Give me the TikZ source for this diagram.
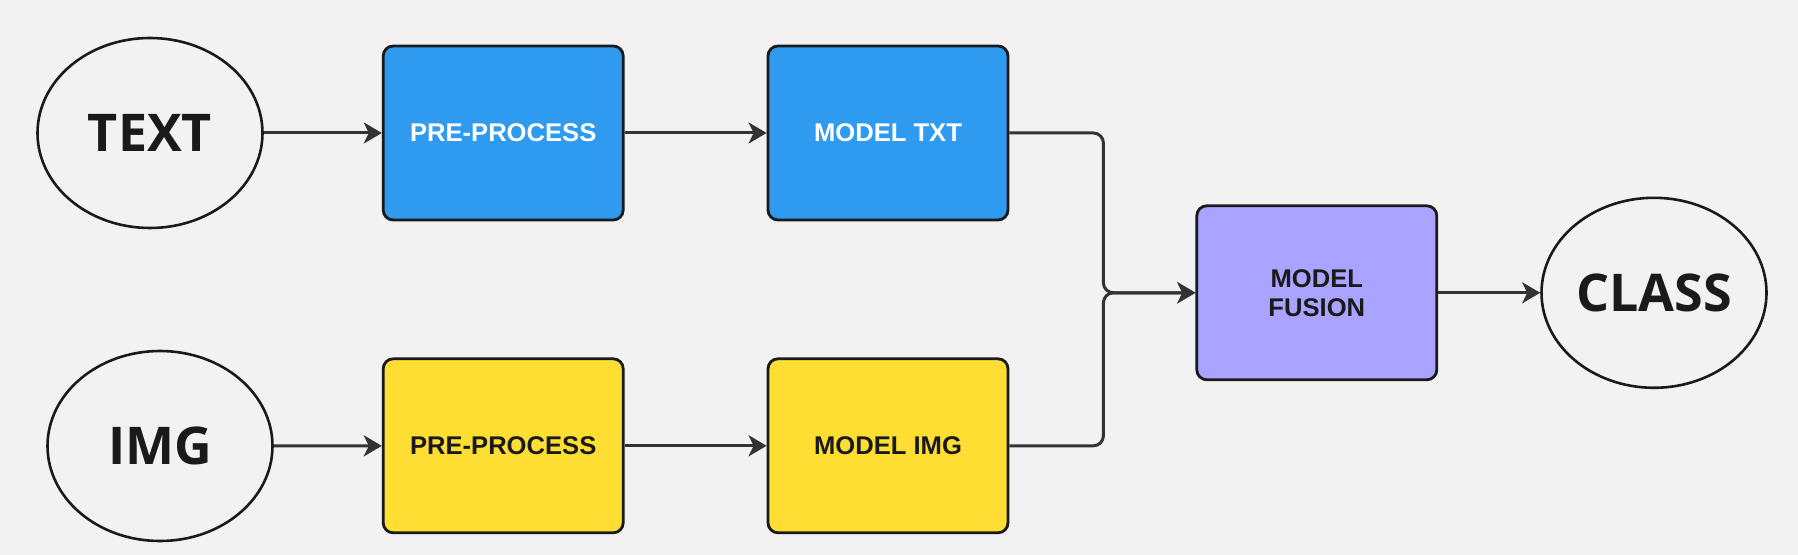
\documentclass[tikz,border=0pt]{standalone}
\usepackage{fontspec}
\setsansfont{Liberation Sans}
\newfontfamily\ovalfont{Open Sans}
\definecolor{bgcolor}{RGB}{242,242,242}
\definecolor{txtblue}{RGB}{46,155,240}
\definecolor{imgyellow}{RGB}{255,222,52}
\definecolor{fusepurple}{RGB}{170,163,255}
\definecolor{linegray}{RGB}{51,51,51}
\definecolor{inkdark}{RGB}{26,26,26}
\usetikzlibrary{calc}
\usetikzlibrary{positioning}
\usetikzlibrary{arrows.meta,shapes.geometric,backgrounds}

\tikzset{
  oval/.style={ellipse, draw=inkdark, line width=1.3pt, minimum width=112.5pt,
    minimum height=95pt, inner sep=0pt, text=inkdark,
    font=\ovalfont\bfseries\fontsize{26}{30}\selectfont},
  block/.style={rectangle, rounded corners=5pt, draw=inkdark, line width=1.4pt,
    minimum width=120pt, minimum height=87pt, inner sep=0pt, align=center,
    font=\sffamily\bfseries\fontsize{12.8}{14.5}\selectfont},
  flow/.style={draw=linegray, line width=1.5pt,
    -{Stealth[length=9pt,width=10.5pt,inset=2.5pt]}},
}

\begin{document}
\begin{tikzpicture}
  \node [oval] (txt) at (75pt,-66.5pt) {TEXT};
  \node [block, fill=txtblue, text=white, right=59pt of txt] (pre1) {PRE-PROCESS};
  \node [block, fill=txtblue, text=white, right=71pt of pre1] (mtxt) {MODEL TXT};

  \node [oval] (img) at (80pt,-223pt) {IMG};
  \node [block, fill=imgyellow, text=inkdark, below=68pt of pre1] (pre2) {PRE-PROCESS};
  \node [block, fill=imgyellow, text=inkdark, below=68pt of mtxt] (mimg) {MODEL IMG};

  \coordinate (mid) at ($(mtxt.east)!0.5!(mimg.east)+(0,-1.7pt)$);
  \node [block, fill=fusepurple, text=inkdark, right=93pt of mid] (fuse) {MODEL\\FUSION};
  \node [oval, right=51pt of fuse] (cls) {CLASS};
  \coordinate (j) at ($(mid)+(47pt,0)$);

  \draw [flow] (txt) -- (pre1);
  \draw [flow] (pre1) -- (mtxt);
  \draw [flow] (img) -- (pre2);
  \draw [flow] (pre2) -- (mimg);
  \draw [flow, rounded corners=5pt] (mtxt.east) -| (j) -- (fuse.west);
  \draw [flow, rounded corners=5pt] (mimg.east) -| (j) -- (fuse.west);
  \draw [flow] (fuse) -- (cls);

  \begin{scope}[on background layer]
    \fill [bgcolor] (0,0) rectangle (899pt,-277.5pt);
  \end{scope}
\end{tikzpicture}
\end{document}
